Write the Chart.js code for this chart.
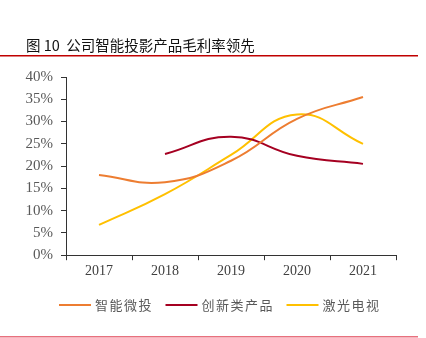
<!DOCTYPE html>
<html>
<head>
<meta charset="utf-8">
<script src="https://cdn.jsdelivr.net/npm/chart.js@4/dist/chart.umd.min.js"></script>
<style>
  html, body { margin: 0; padding: 0; background: #fff; }
  #wrap { width: 426px; height: 338px; position: relative; }
</style>
</head>
<body>
<div id="wrap"><canvas id="marginChart"></canvas></div>
<script>
// 图表数据（毛利率，%）
const chartTitle = '图 10  公司智能投影产品毛利率领先';
const years = ['2017', '2018', '2019', '2020', '2021'];
const smartProjector = [18.0, 16.4, 21.2, 30.6, 35.5];
const newProducts = [null, 22.7, 26.6, 22.3, 20.5];
const laserTv = [6.8, 13.7, 22.5, 31.6, 25.0];
const seriesNames = ['智能微投', '创新类产品', '激光电视'];
const seriesColors = ['#ED7D31', '#A50021', '#FFC000'];

// 标题和上下红线
const framePlugin = {
  id: 'frame',
  beforeDraw(chart) {
    const ctx = chart.ctx;
    ctx.save();
    ctx.fillStyle = '#fff';
    ctx.fillRect(0, 0, chart.width, chart.height);
    ctx.fillStyle = '#111';
    ctx.font = '14.5px "Noto Sans CJK SC"';
    ctx.textBaseline = 'middle';
    ctx.fillText(chartTitle, 26, 45);
    ctx.fillStyle = '#C00000';
    ctx.fillRect(0, 55, 418, 1.5);
    ctx.fillStyle = '#E8707E';
    ctx.fillRect(0, 336, 418, 1.5);
    ctx.restore();
  }
};

// 底部图例：短线 + 字距稍宽的文字
const legendPlugin = {
  id: 'lineLegend',
  afterDraw(chart) {
    const ctx = chart.ctx;
    const lineLen = 32, gap = 4, itemGap = 14, y = 305;
    ctx.save();
    ctx.font = '13px "Noto Sans CJK SC"';
    ctx.letterSpacing = '1.5px';
    ctx.textBaseline = 'middle';
    const items = chart.data.datasets.map(ds => ({
      label: ds.label,
      color: ds.borderColor,
      w: ctx.measureText(ds.label).width - 1.5
    }));
    const total = items.reduce((s, it) => s + lineLen + gap + it.w, 0) + itemGap * (items.length - 1);
    let x = Math.round(219.5 - total / 2);
    items.forEach(it => {
      ctx.fillStyle = it.color;
      ctx.fillRect(x, y - 1, lineLen, 2);
      x += lineLen + gap;
      ctx.fillStyle = '#595959';
      ctx.fillText(it.label, x, y);
      x += it.w + itemGap;
    });
    ctx.restore();
  }
};

function makeDataset(i, values) {
  return {
    label: seriesNames[i],
    data: values,
    borderColor: seriesColors[i],
    backgroundColor: seriesColors[i],
    borderWidth: 2,
    pointRadius: 0,
    tension: 0.45,
    fill: false
  };
}

const ctx = document.getElementById('marginChart').getContext('2d');
new Chart(ctx, {
  type: 'line',
  data: {
    labels: years,
    datasets: [
      makeDataset(0, smartProjector),
      makeDataset(1, newProducts),
      makeDataset(2, laserTv)
    ]
  },
  options: {
    responsive: true,
    maintainAspectRatio: false,
    animation: false,
    layout: { padding: { top: 77, right: 30, bottom: 55, left: 0 } },
    plugins: {
      tooltip: { enabled: false },
      legend: { display: false }
    },
    scales: {
      x: {
        offset: true,
        grid: {
          offset: true,
          drawOnChartArea: false,
          drawTicks: true,
          tickLength: 5,
          color: '#333'
        },
        border: { color: '#333', width: 1 },
        ticks: {
          color: '#404040',
          padding: 3,
          font: { family: '"Liberation Serif"', size: 14 }
        }
      },
      y: {
        min: 0,
        max: 40,
        afterFit(scale) { scale.width = 66; },
        grid: {
          drawOnChartArea: false,
          drawTicks: true,
          tickLength: 5,
          color: '#333'
        },
        border: { color: '#333', width: 1 },
        ticks: {
          stepSize: 5,
          color: '#595959',
          padding: 8,
          font: { family: '"Liberation Serif"', size: 15 },
          callback: v => v + '%'
        }
      }
    }
  },
  plugins: [framePlugin, legendPlugin]
});
</script>
</body>
</html>
